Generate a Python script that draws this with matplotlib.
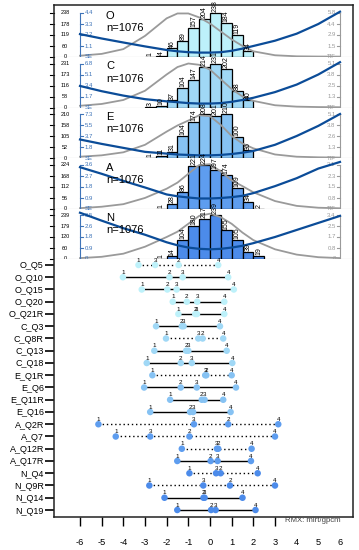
import matplotlib
matplotlib.use("Agg")
import matplotlib.pyplot as plt
import numpy as np

plt.rcParams['font.family'] = ['Liberation Sans', 'DejaVu Sans']
plt.rcParams['axes.unicode_minus'] = False

# ---------------- data ----------------
dims = ['O', 'C', 'E', 'A', 'N']
n_persons = 1076

# person histograms (bin width 0.5 logit)
bin_width = 0.5
hist_start = [-3.0, -3.0, -3.0, -2.5, -2.5]
counts_O = [1, 4, 46, 89, 157, 204, 238, 184, 119, 34]
counts_C = [3, 10, 37, 104, 147, 214, 231, 202, 88, 40]
counts_E = [1, 11, 31, 104, 174, 208, 201, 210, 100, 36]
counts_A = [1, 28, 86, 221, 224, 197, 174, 109, 34, 2]
counts_N = [1, 14, 104, 180, 217, 239, 155, 105, 39, 19]
counts = [counts_O, counts_C, counts_E, counts_A, counts_N]

# axis labels of the three panel scales (count, SE, TIF)
count_labels = [['0', '60', '119', '178', '238'],
                ['0', '58', '116', '173', '231'],
                ['0', '52', '105', '158', '210'],
                ['0', '56', '112', '168', '224'],
                ['0', '60', '120', '179', '239']]
se_max = [4.4, 6.8, 7.3, 3.6, 3.5]
se_labels = [['SE', '1.1', '2.2', '3.3', '4.4'],
             ['SE', '1.7', '3.4', '5.1', '6.8'],
             ['SE', '1.8', '3.7', '5.5', '7.3'],
             ['SE', '0.9', '1.8', '2.7', '3.6'],
             ['0', '0.9', '1.8', '2.6', '3.5']]
tif_max = [5.8, 5.1, 5.1, 3.1, 3.4]
tif_labels = [['TIF', '1.5', '2.9', '4.4', '5.8'],
              ['TIF', '1.3', '2.5', '3.8', '5.1'],
              ['TIF', '1.3', '2.6', '3.8', '5.1'],
              ['TIF', '0.8', '1.5', '2.3', '3.1'],
              ['0', '0.8', '1.7', '2.5', '3.4']]

# standard error and test information curves
curve_theta = [-6, -5, -4, -3, -2, -1.5, -1, -0.5, 0, 0.5, 1, 1.5, 2, 3, 4, 5, 6]
se_O = [2.29, 1.85, 1.45, 1.06, 0.70, 0.57, 0.48, 0.44, 0.44, 0.48, 0.62, 0.84, 1.10, 1.63, 2.33, 3.30, 4.53]
se_C = [3.33, 2.52, 1.84, 1.29, 0.95, 0.82, 0.68, 0.61, 0.61, 0.68, 0.88, 1.16, 1.50, 2.38, 3.54, 5.10, 7.00]
se_E = [3.07, 2.34, 1.68, 1.02, 0.73, 0.58, 0.51, 0.44, 0.44, 0.51, 0.66, 0.88, 1.17, 2.19, 3.65, 5.33, 7.30]
se_A = [3.42, 2.88, 2.30, 1.76, 1.19, 1.04, 0.94, 0.86, 0.86, 0.90, 0.97, 1.08, 1.30, 1.87, 2.52, 3.31, 3.85]
se_N = [3.68, 3.05, 2.45, 1.93, 1.33, 1.09, 0.91, 0.81, 0.77, 0.81, 0.91, 1.05, 1.26, 1.75, 2.31, 2.87, 3.43]
tif_O = [0.17, 0.41, 1.04, 2.78, 5.10, 5.74, 5.74, 5.22, 4.41, 3.36, 2.32, 1.45, 0.75, 0.23, 0.09, 0.06, 0.05]
tif_C = [0.20, 0.41, 0.87, 1.94, 3.83, 4.69, 5.10, 4.95, 4.39, 3.26, 2.14, 1.28, 0.77, 0.26, 0.10, 0.05, 0.03]
tif_E = [0.15, 0.31, 0.66, 1.53, 3.06, 3.77, 4.34, 4.95, 4.85, 3.83, 2.55, 1.68, 1.12, 0.41, 0.15, 0.08, 0.05]
tif_A = [0.06, 0.16, 0.34, 0.78, 1.43, 1.86, 2.48, 3.10, 3.16, 2.64, 2.02, 1.61, 1.18, 0.56, 0.22, 0.09, 0.05]
tif_N = [0.07, 0.17, 0.41, 0.95, 1.70, 2.11, 2.72, 3.33, 3.50, 3.23, 2.72, 2.04, 1.46, 0.75, 0.34, 0.14, 0.07]
se_curves = [se_O, se_C, se_E, se_A, se_N]
tif_curves = [tif_O, tif_C, tif_E, tif_A, tif_N]

# item thresholds 1..4
item_names = ['O_Q5', 'O_Q10', 'O_Q15', 'O_Q20', 'O_Q21R',
              'C_Q3', 'C_Q8R', 'C_Q13', 'C_Q18',
              'E_Q1R', 'E_Q6', 'E_Q11R', 'E_Q16',
              'A_Q2R', 'A_Q7', 'A_Q12R', 'A_Q17R',
              'N_Q4', 'N_Q9R', 'N_Q14', 'N_Q19']
thr1 = [-3.30, -4.02, -3.15, -1.72, -1.46, -2.49, -2.03, -2.57, -2.92, -2.66, -3.04,
        -1.84, -2.76, -5.15, -4.35, -1.30, -1.51, -0.95, -2.80, -2.10, -1.51]
thr2 = [-1.45, -1.87, -1.97, -1.07, -0.68, -1.30, -0.34, -1.10, -1.35, -0.17, -1.35,
        -0.38, -0.92, 0.84, -0.95, 0.38, 0.03, 0.49, 0.92, -0.30, 0.05]
thr3 = [-2.53, -1.26, -1.54, -0.59, -0.60, -1.22, -0.54, -1.00, -0.84, -0.22, -0.61,
        -0.25, -0.78, -0.74, -2.76, 0.32, 0.35, 0.28, -0.31, -0.25, 0.26]
thr4 = [0.38, 0.84, 1.10, 0.66, 0.66, 0.46, 0.61, 0.77, 1.03, 1.00, 1.20,
        0.61, 0.95, 3.15, 3.00, 1.92, 1.89, 2.20, 3.00, 1.50, 2.10]
x_ticks = [-6, -5, -4, -3, -2, -1, 0, 1, 2, 3, 4, 5, 6]

# ---------------- layout ----------------
W, H = 359, 550
BOX_L, BOX_R, BOX_T, BOX_B = 54, 353, 5, 517
PX_UNIT = 21.667
ZERO_PX = 210
XLIM = ((BOX_L - ZERO_PX) / PX_UNIT, (BOX_R - ZERO_PX) / PX_UNIT)
baselines = [57, 107.5, 158, 209, 259]
PANEL_H = 50.5
SCALE_H = 44.0
colors = {'O': '#bdf1fa', 'C': '#a0d8f6', 'E': '#86c2f3', 'A': '#5e9def', 'N': '#4c8bea'}
SE_COL = '#0b4c98'
TIF_COL = '#9a9a9a'
AXB_COL = '#3f74b8'


def rect(x0, y0, x1, y1):
    return [x0 / W, 1 - y1 / H, (x1 - x0) / W, (y1 - y0) / H]


def px2theta(px):
    return (px - ZERO_PX) / PX_UNIT


fig = plt.figure(figsize=(W / 100, H / 100), dpi=100)

# ---------------- person panels ----------------
for i, d in enumerate(dims):
    yb = baselines[i]
    ax = fig.add_axes(rect(BOX_L, yb - PANEL_H, BOX_R, yb))
    ax.set_xlim(XLIM)
    ax.set_ylim(0, PANEL_H / SCALE_H)
    ax.axis('off')

    c = counts[i]
    cmax = max(c)
    centers = hist_start[i] + bin_width * (np.arange(len(c)) + 0.5)
    heights = np.array(c) / cmax
    ax.bar(centers, heights, width=bin_width, color=colors[d], edgecolor='black',
           linewidth=0.9, zorder=2)
    for xc, hc, v in zip(centers, heights, c):
        ax.text(xc, hc + 0.02, str(v), rotation=90, ha='center', va='bottom',
                fontsize=5, clip_on=False, zorder=5)

    ax.axhline(0, color='#b0b0b0', lw=0.8, zorder=1)
    ax.plot(curve_theta, np.array(tif_curves[i]) / tif_max[i], color=TIF_COL, lw=1.3, zorder=3)
    ax.plot(curve_theta, np.array(se_curves[i]) / se_max[i], color=SE_COL, lw=1.6, zorder=4)

    levels = [0, 0.25, 0.5, 0.75, 1.0]
    # SE axis at theta = -6
    ax.plot([-6, -6], [0, 1], color=AXB_COL, lw=0.8, zorder=3)
    tk = 3 / PX_UNIT
    for lv, lab in zip(levels, se_labels[i]):
        ax.plot([-6, -6 + tk], [lv, lv], color=AXB_COL, lw=0.8)
        ax.text(-6 + 0.2, lv, lab, fontsize=4.3, color=AXB_COL, ha='left', va='center')
    # TIF axis at theta = 6
    ax.plot([6, 6], [0, 1], color=TIF_COL, lw=0.8, zorder=3)
    for lv, lab in zip(levels, tif_labels[i]):
        ax.plot([6, 6 - tk], [lv, lv], color=TIF_COL, lw=0.8)
        ax.text(6 - 0.2, lv, lab, fontsize=4.3, color=TIF_COL, ha='right', va='center')
    # count axis on the box edge
    for lv, lab in zip(levels, count_labels[i]):
        ax.plot([px2theta(50), px2theta(BOX_L)], [lv, lv], color='black', lw=0.8,
                clip_on=False)
        ax.text(px2theta(65), lv, lab, fontsize=4, ha='center', va='center')

    fig.text(106 / W, 1 - (yb - 41) / H, d, fontsize=8, ha='left', va='center')
    fig.text(106 / W, 1 - (yb - 29) / H, 'n=%d' % n_persons, fontsize=8,
             ha='left', va='center')

# ---------------- item panel ----------------
axI = fig.add_axes(rect(BOX_L, baselines[-1], BOX_R, BOX_B))
n_items = len(item_names)
axI.set_xlim(XLIM)
axI.set_ylim(n_items - 1 + (BOX_B - 510) / 12.25, -(265 - baselines[-1]) / 12.25)
for j, name in enumerate(item_names):
    t = [thr1[j], thr2[j], thr3[j], thr4[j]]
    ordered = all(t[k] < t[k + 1] for k in range(3))
    ls = '-' if ordered else (0, (1, 2))
    axI.plot([min(t), max(t)], [j, j], color='black', lw=1.0, linestyle=ls, zorder=2)
    col = colors[name[0]]
    axI.scatter(t, [j] * 4, s=22, color=col, edgecolors='none', zorder=3)
    for k, tv in enumerate(t):
        axI.text(tv, j - 0.4, str(k + 1), fontsize=4.5, ha='center', va='center', zorder=4)

axI.set_yticks(range(n_items))
axI.set_yticklabels(item_names, fontsize=6.5)
axI.set_xticks(x_ticks)
axI.set_xticklabels([str(v) for v in x_ticks], fontsize=6.7)
axI.tick_params(axis='y', length=6.3, width=1.2, pad=1)
axI.tick_params(axis='x', length=6.3, width=1.0, pad=9)
for tick in axI.xaxis.get_major_ticks()[-3:]:
    tick.tick1line.set_visible(False)
for s in axI.spines.values():
    s.set_visible(False)

fig.text(285 / W, 1 - 521 / H, 'RMX: mirt/gpcm', fontsize=5.6, color='#444444',
         ha='left', va='center')

# outer frame
frame = fig.add_axes(rect(BOX_L, BOX_T, BOX_R, BOX_B))
frame.set_facecolor('none')
frame.set_xticks([])
frame.set_yticks([])
for s in frame.spines.values():
    s.set_linewidth(1.1)
    s.set_color('#222222')

fig.savefig('out.png', dpi=100)
